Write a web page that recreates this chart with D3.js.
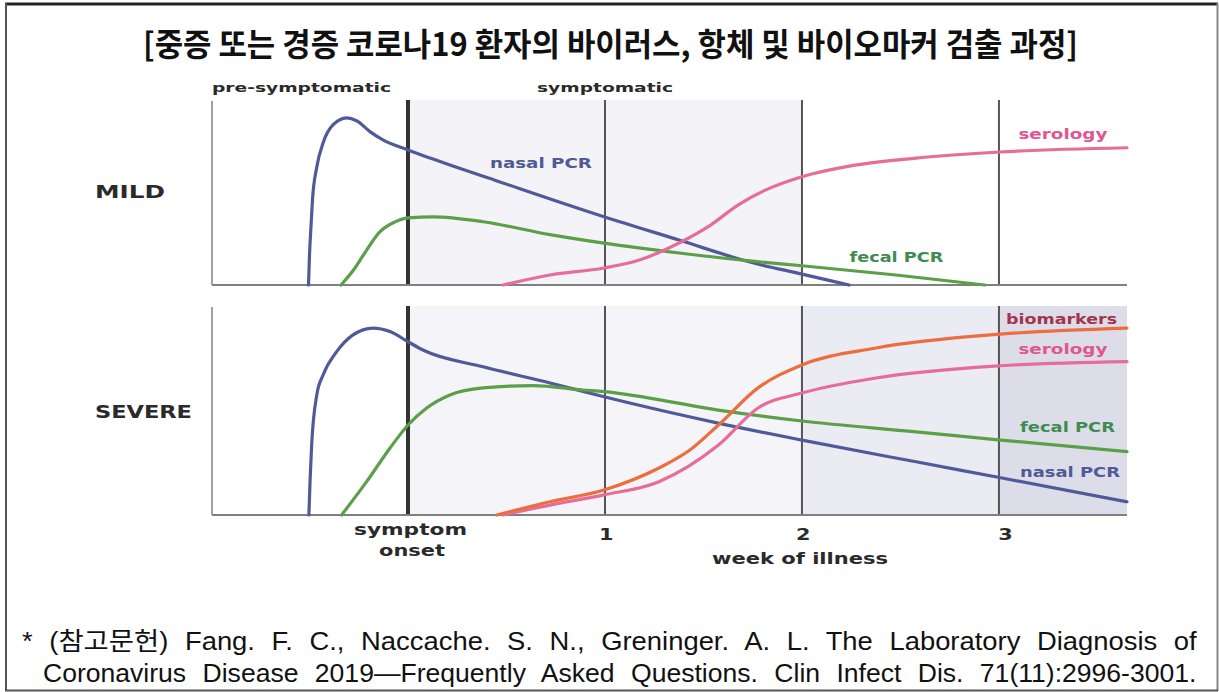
<!DOCTYPE html>
<html>
<head>
<meta charset="utf-8">
<script src="https://cdn.jsdelivr.net/npm/d3@7/dist/d3.min.js"></script>
<style>
  html, body { margin: 0; padding: 0; background: #fff; }
  svg { display: block; }
</style>
</head>
<body>
<svg id="chart" width="1219" height="692"></svg>
<script>
// ---------------- DATA ----------------
const titleText = "[중증 또는 경증 코로나19 환자의 바이러스, 항체 및 바이오마커 검출 과정]";
const footnoteLines = [
  "* (참고문헌) Fang. F. C., Naccache. S. N., Greninger. A. L. The Laboratory Diagnosis of",
  "Coronavirus Disease 2019—Frequently Asked Questions. Clin Infect Dis. 71(11):2996-3001."
];
const phaseLabels = ["pre-symptomatic", "symptomatic"];
const panelLabels = ["MILD", "SEVERE"];
const weekTicks = [1, 2, 3];
const weekTickLabels = ["1", "2", "3"];
const onsetLabel = ["symptom", "onset"];
const xAxisTitle = "week of illness";
const seriesNames = ["nasal PCR", "fecal PCR", "serology", "biomarkers"];

// week of illness (0 = symptom onset) , relative level (0-100)
const mildNasalPCR = [[-0.505,0],[-0.500,16.2],[-0.492,32.4],[-0.485,45.9],[-0.463,63.8],[-0.431,76.8],[-0.381,86.5],[-0.311,90.3],[-0.261,88.8],[-0.193,82.9],[-0.127,78.4],[0,73],[0.112,68.6],[0.467,55.7],[0.995,36.9],[1.376,24.3],[1.736,12.4],[2,5.9],[2.239,0]];
const mildFecalPCR = [[-0.340,0],[-0.269,9.2],[-0.210,18.9],[-0.142,28.8],[-0.066,34.1],[0,36.3],[0.127,36.8],[0.381,34.2],[0.721,27.2],[0.995,22.6],[1.376,17.3],[1.736,13.0],[2,10.4],[2.477,5.4],[2.929,0]];
const mildSerology = [[0.482,0],[0.721,5.4],[0.995,9.2],[1.175,13.5],[1.376,22.7],[1.536,32.4],[1.675,43.2],[1.817,51.4],[2,58.5],[2.277,64.9],[2.579,68.6],[3.005,71.9],[3.650,74.2]];

const severeNasalPCR = [[-0.503,0],[-0.497,16.9],[-0.489,33.8],[-0.463,58.0],[-0.431,67.6],[-0.362,78.9],[-0.279,87.0],[-0.178,90.3],[-0.091,88.6],[0,83.7],[0.076,79.7],[0.381,71.6],[0.721,63.8],[0.995,57.1],[1.574,44.4],[2,36.2],[2.579,25.7],[3.009,18.0],[3.650,6.4]];
const severeFecalPCR = [[-0.337,0],[-0.210,16.1],[-0.091,32.4],[0,43.5],[0.095,51.7],[0.213,58.0],[0.381,61.4],[0.635,62.5],[0.888,60.4],[0.995,59.6],[1.574,50.7],[2,45.4],[2.579,40.2],[3.009,36.2],[3.650,30.6]];
const severeBiomarkers = [[0.450,0],[0.721,6.4],[0.995,12.1],[1.274,22.7],[1.431,31.4],[1.576,43.5],[1.777,61.4],[2,72.5],[2.376,80.7],[3.009,87.4],[3.650,90.3]];
const severeSerology = [[0.482,0],[0.721,4.8],[0.995,9.7],[1.274,16.1],[1.576,33.8],[1.777,51.7],[2,58.9],[2.376,66.2],[3.009,72.1],[3.650,74.1]];

// shaded phases (week ranges)
const mildBands = [[0, 2]];
const severeBands = [[0, 2], [2, 3], [3, 3.65]];

// ---------------- LAYOUT ----------------
const svg = d3.select("#chart");
const x = d3.scaleLinear().domain([-1, 3.65]).range([211, 1127]);
const panels = [
  { key: "mild", y: d3.scaleLinear().domain([0, 100]).range([285, 100]), top: 100, base: 285,
    bands: mildBands, bandColors: ["#f3f3f8"],
    series: [
      { name: "nasal PCR", data: mildNasalPCR, color: "#515a98" },
      { name: "fecal PCR", data: mildFecalPCR, color: "#5c9f49" },
      { name: "serology", data: mildSerology, color: "#e66d98" }
    ],
    labels: [
      { text: "nasal PCR", w: 0.416, v: 63.2, len: 102, color: "#4f5a96" },
      { text: "serology", w: 3.099, v: 78.9, len: 89, color: "#e0568f" },
      { text: "fecal PCR", w: 2.241, v: 12.4, len: 94, color: "#3f8c50" }
    ]
  },
  { key: "severe", y: d3.scaleLinear().domain([0, 100]).range([515, 308]), top: 306, base: 515,
    bands: severeBands, bandColors: ["#f4f4f9", "#ebebf3", "#dddde9"],
    series: [
      { name: "nasal PCR", data: severeNasalPCR, color: "#515a98" },
      { name: "fecal PCR", data: severeFecalPCR, color: "#5c9f49" },
      { name: "serology", data: severeSerology, color: "#e66d98" },
      { name: "biomarkers", data: severeBiomarkers, color: "#ec6e3e" }
    ],
    labels: [
      { text: "biomarkers", w: 3.036, v: 92.3, len: 111, color: "#a3354a" },
      { text: "serology", w: 3.099, v: 77.8, len: 89, color: "#e0568f" },
      { text: "fecal PCR", w: 3.107, v: 40.1, len: 95, color: "#3f8c50" },
      { text: "nasal PCR", w: 3.107, v: 18.4, len: 100, color: "#4f5a96" }
    ]
  }
];

const chartFont = "'DejaVu Sans', Verdana, sans-serif";

// frame
svg.append("line").attr("x1", 5).attr("x2", 1218).attr("y1", 4).attr("y2", 4).attr("stroke", "#222").attr("stroke-width", 3);
svg.append("line").attr("x1", 6).attr("x2", 6).attr("y1", 3).attr("y2", 691).attr("stroke", "#555").attr("stroke-width", 2);
svg.append("line").attr("x1", 1217.5).attr("x2", 1217.5).attr("y1", 3).attr("y2", 691).attr("stroke", "#888").attr("stroke-width", 2);
svg.append("line").attr("x1", 5).attr("x2", 1218).attr("y1", 690.5).attr("y2", 690.5).attr("stroke", "#555").attr("stroke-width", 2);

// title
svg.append("text")
  .attr("x", 143).attr("y", 56)
  .attr("textLength", 935).attr("lengthAdjust", "spacingAndGlyphs")
  .style("font-family", "'Noto Sans CJK KR', sans-serif")
  .style("font-size", "32px").style("font-weight", 700).style("fill", "#111")
  .text(titleText);

// phase labels
const phaseG = svg.append("g").style("font-family", chartFont).style("font-weight", "bold").style("font-size", "13px").style("fill", "#2a2a2a");
phaseG.append("text").attr("x", 212).attr("y", 92).attr("textLength", 179).attr("lengthAdjust", "spacingAndGlyphs").text(phaseLabels[0]);
phaseG.append("text").attr("x", 537).attr("y", 92).attr("textLength", 136).attr("lengthAdjust", "spacingAndGlyphs").text(phaseLabels[1]);

panels.forEach((p) => {
  const g = svg.append("g").attr("class", p.key);
  g.selectAll("rect.band").data(p.bands).join("rect")
    .attr("class", "band")
    .attr("x", d => x(d[0])).attr("width", d => x(d[1]) - x(d[0]))
    .attr("y", p.top).attr("height", p.base - p.top)
    .attr("fill", (d, i) => p.bandColors[i]);

  g.append("line").attr("x1", x(-1) + 1).attr("x2", x(-1) + 1).attr("y1", p.top + 1).attr("y2", p.base)
    .attr("stroke", "#8a8a8a").attr("stroke-width", 1.6);

  g.selectAll("line.week").data(weekTicks).join("line")
    .attr("class", "week")
    .attr("x1", d => x(d)).attr("x2", d => x(d))
    .attr("y1", p.top).attr("y2", p.base)
    .attr("stroke", "#555").attr("stroke-width", 2);

  g.append("line").attr("x1", x(0)).attr("x2", x(0)).attr("y1", p.top).attr("y2", p.base)
    .attr("stroke", "#333").attr("stroke-width", 4);

  g.append("line").attr("x1", x(-1) + 1).attr("x2", x(3.65)).attr("y1", p.base).attr("y2", p.base)
    .attr("stroke", "#808080").attr("stroke-width", 2);

  const ln = d3.line().x(d => x(d[0])).y(d => p.y(d[1])).curve(d3.curveMonotoneX);
  g.selectAll("path.series").data(p.series).join("path")
    .attr("class", "series")
    .attr("d", d => ln(d.data))
    .attr("fill", "none")
    .attr("stroke", d => d.color)
    .attr("stroke-width", 3.2)
    .attr("stroke-linecap", "round")
    .attr("stroke-linejoin", "round");

  g.selectAll("text.lab").data(p.labels).join("text")
    .attr("class", "lab")
    .attr("x", d => x(d.w)).attr("y", d => p.y(d.v))
    .attr("textLength", d => d.len).attr("lengthAdjust", "spacingAndGlyphs")
    .style("font-family", chartFont).style("font-weight", "bold").style("font-size", "13.5px")
    .style("fill", d => d.color)
    .text(d => d.text);
});

// panel labels
svg.append("text").attr("x", 95).attr("y", 198).attr("textLength", 70).attr("lengthAdjust", "spacingAndGlyphs")
  .style("font-family", chartFont).style("font-weight", "bold").style("font-size", "17.5px").style("fill", "#2a2a2a").text(panelLabels[0]);
svg.append("text").attr("x", 95).attr("y", 418).attr("textLength", 97).attr("lengthAdjust", "spacingAndGlyphs")
  .style("font-family", chartFont).style("font-weight", "bold").style("font-size", "17.5px").style("fill", "#2a2a2a").text(panelLabels[1]);

// x axis labels
const axG = svg.append("g").style("font-family", chartFont).style("font-weight", "bold").style("fill", "#2a2a2a");
axG.append("text").attr("x", 354).attr("y", 535).attr("textLength", 113).attr("lengthAdjust", "spacingAndGlyphs")
  .style("font-size", "15px").text(onsetLabel[0]);
axG.append("text").attr("x", 379).attr("y", 556).attr("textLength", 66).attr("lengthAdjust", "spacingAndGlyphs")
  .style("font-size", "15px").text(onsetLabel[1]);
axG.selectAll("text.tick").data(weekTicks).join("text")
  .attr("class", "tick")
  .attr("x", d => x(d) + (d === 3 ? 5 : 1)).attr("y", 540)
  .attr("text-anchor", "middle")
  .style("font-size", "16px")
  .attr("transform", d => `translate(${x(d)},0) scale(1.3,1) translate(${-x(d)},0)`)
  .text((d, i) => weekTickLabels[i]);
axG.append("text").attr("x", 712).attr("y", 564).attr("textLength", 176).attr("lengthAdjust", "spacingAndGlyphs")
  .style("font-size", "15.5px").text(xAxisTitle);

// footnote: justified lines, glyph width adapted so that word gaps stay moderate
const footFont = "'Liberation Sans', Arial, 'Noto Sans CJK KR', sans-serif";
const footPos = [[22, 1197, 650], [43, 1197, 682]];
const gapPx = 9;
footnoteLines.forEach((t, i) => {
  const [x0, x1, yy] = footPos[i];
  const g = svg.append("g").attr("transform", `translate(${x0},${yy})`);
  const tx = g.append("text").attr("x", 0).attr("y", 0)
    .style("font-family", footFont).style("font-size", "25px").style("fill", "#111")
    .text(t);
  const wNat = tx.node().getComputedTextLength();
  const nSp = (t.match(/ /g) || []).length;
  const target = x1 - x0;
  let sx = (target - nSp * gapPx) / wNat;
  sx = Math.max(0.75, Math.min(1.12, sx));
  const ws = (target / sx - wNat) / nSp;
  g.attr("transform", `translate(${x0},${yy}) scale(${sx},1)`);
  tx.attr("word-spacing", ws);
});
</script>
</body>
</html>
